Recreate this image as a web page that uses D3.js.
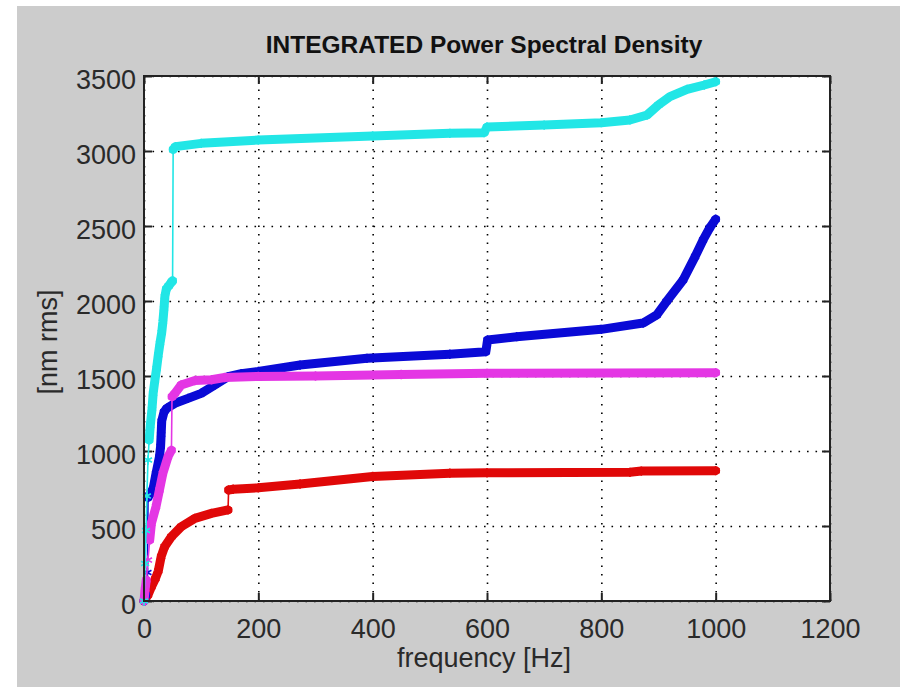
<!DOCTYPE html>
<html>
<head>
<meta charset="utf-8">
<script src="https://cdn.jsdelivr.net/npm/d3@7"></script>
<style>
  body { margin: 0; background: #fff; }
  svg { display: block; font-family: "Liberation Sans", Arial, Helvetica, sans-serif; }
</style>
</head>
<body>
<div id="chart"></div>
<script>
// Integrated PSD curves (frequency in Hz, nm rms)
var cyanFreq = [0, 2, 3.5, 5, 7, 9, 11, 14, 16, 19, 22, 25, 28, 31, 33, 35, 36.5, 39, 43, 48, 50, 51, 55, 100, 200, 400, 535, 595, 600, 700, 800, 850, 880, 900, 920, 950, 980, 1000];
var cyanVal = [0, 250, 470, 700, 940, 1073, 1170, 1280, 1384, 1470, 1550, 1640, 1720, 1790, 1860, 1950, 2030, 2080, 2100, 2125, 2135, 3010, 3029, 3051, 3073, 3100, 3118, 3122, 3160, 3173, 3189, 3207, 3240, 3307, 3362, 3411, 3440, 3462];

var blueFreq = [0, 3, 6, 7, 10, 16, 21, 27, 29, 30, 31, 35, 40, 54, 77, 100, 124, 147, 170, 200, 273, 390, 535, 598, 601, 652, 800, 873, 897, 914, 943, 964, 978, 990, 1000];
var blueVal = [0, 40, 190, 690, 710, 750, 850, 960, 1030, 1110, 1200, 1260, 1285, 1318, 1351, 1384, 1440, 1496, 1515, 1530, 1573, 1618, 1645, 1662, 1740, 1762, 1811, 1853, 1907, 1996, 2140, 2296, 2407, 2490, 2545];

var magentaFreq = [0, 2, 4, 7, 10, 13, 21, 27, 33, 42, 48, 49, 54, 65, 89, 118, 141, 200, 300, 450, 600, 1000];
var magentaVal = [0, 80, 140, 273, 407, 518, 629, 740, 851, 962, 1005, 1362, 1384, 1440, 1470, 1475, 1490, 1497, 1500, 1510, 1518, 1522];

var redFreq = [0, 7, 13, 20, 25, 30, 36, 48, 65, 89, 118, 147, 148, 156, 200, 273, 400, 535, 600, 850, 870, 1000];
var redVal = [0, 40, 95, 150, 200, 296, 362, 429, 495, 551, 584, 607, 740, 745, 755, 780, 830, 852, 855, 858, 866, 869];

var xTicks = [0, 200, 400, 600, 800, 1000, 1200];
var yTicks = [0, 500, 1000, 1500, 2000, 2500, 3000, 3500];

(function psdChart() {

  var W = 900, H = 687;
  var margin = { top: 76, right: 70, bottom: 86, left: 144 },
    width = W - margin.left - margin.right,
    height = H - margin.top - margin.bottom;

  // drawing order: red, blue, magenta, cyan
  var series = [
    { color: "#e00808", freq: redFreq, val: redVal },
    { color: "#0a0ad6", freq: blueFreq, val: blueVal },
    { color: "#e436e4", freq: magentaFreq, val: magentaVal },
    { color: "#22e6e6", freq: cyanFreq, val: cyanVal }
  ];

  var svg = d3.select("#chart").append("svg")
    .attr("width", W)
    .attr("height", H);

  // grey figure background
  svg.append("rect")
    .attr("x", 17).attr("y", 6)
    .attr("width", W - 17).attr("height", H - 6)
    .attr("fill", "#cccccc");

  var g = svg.append("g")
    .attr("transform", "translate(" + margin.left + "," + margin.top + ")");

  var x = d3.scaleLinear().domain([0, 1200]).range([0, width]);
  var y = d3.scaleLinear().domain([0, 3500]).range([height, 0]);
  var fmt = d3.format("d");

  g.append("rect")
    .attr("width", width).attr("height", height)
    .attr("fill", "#fff");

  // dotted grid
  g.append("g").attr("class", "grid")
    .attr("transform", "translate(0," + height + ")")
    .call(d3.axisBottom(x).tickValues(xTicks).tickSize(-height).tickFormat(""));
  g.append("g").attr("class", "grid")
    .call(d3.axisLeft(y).tickValues(yTicks).tickSize(-width).tickFormat(""));
  g.selectAll(".grid .domain").remove();
  g.selectAll(".grid line")
    .attr("stroke", "#000")
    .attr("stroke-width", 1.6)
    .attr("stroke-dasharray", "1.6,6.9");

  // axes: ticks point inward on all four sides
  var xAxis = g.append("g")
    .attr("transform", "translate(0," + height + ")")
    .call(d3.axisBottom(x).tickValues(xTicks).tickFormat(fmt).tickSizeInner(-8).tickSizeOuter(0).tickPadding(18));
  var yAxis = g.append("g")
    .call(d3.axisLeft(y).tickValues(yTicks).tickFormat(fmt).tickSizeInner(-8).tickSizeOuter(0).tickPadding(8));
  var xTop = g.append("g")
    .call(d3.axisTop(x).tickValues(xTicks).tickSizeInner(-8).tickSizeOuter(0).tickFormat(""));
  var yRight = g.append("g")
    .attr("transform", "translate(" + width + ",0)")
    .call(d3.axisRight(y).tickValues(yTicks).tickSizeInner(-8).tickSizeOuter(0).tickFormat(""));

  [xAxis, yAxis, xTop, yRight].forEach(function (a) {
    a.select(".domain").remove();
    a.selectAll("line").attr("stroke", "#222").attr("stroke-width", 2);
    a.selectAll("text")
      .attr("font-size", "27px")
      .attr("font-family", "'Liberation Sans', Arial, Helvetica, sans-serif")
      .attr("fill", "#2a2a2a");
  });
  yAxis.selectAll("text").attr("dy", "0.45em");

  // curves: thin connecting line, a thick band where the asterisk markers
  // pile up, and the markers themselves
  var line = d3.line().x(function (d) { return x(d[0]); }).y(function (d) { return y(d[1]); });
  var star = d3.symbol().type(d3.symbolAsterisk || d3.symbolCross).size(60);

  series.forEach(function (s) {
    var pts = s.freq.map(function (f, i) { return [f, s.val[i]]; });

    // split into runs, breaking on single-step jumps
    var runs = [], cur = [pts[0]];
    for (var i = 1; i < pts.length; i++) {
      var dx = Math.abs(x(pts[i][0]) - x(pts[i - 1][0]));
      var dy = Math.abs(y(pts[i][1]) - y(pts[i - 1][1]));
      if (dx < 2 && dy > 18) {
        if (cur.length > 1) runs.push(cur);
        cur = [pts[i]];
      } else {
        cur.push(pts[i]);
      }
    }
    if (cur.length > 1) runs.push(cur);

    g.append("path")
      .datum(pts)
      .attr("d", line)
      .attr("fill", "none")
      .attr("stroke", s.color)
      .attr("stroke-width", 1.6);

    g.selectAll(null)
      .data(runs)
      .enter().append("path")
      .attr("d", line)
      .attr("fill", "none")
      .attr("stroke", s.color)
      .attr("stroke-width", 9)
      .attr("stroke-linejoin", "round")
      .attr("stroke-linecap", "round");

    g.selectAll(null)
      .data(pts)
      .enter().append("path")
      .attr("d", star)
      .attr("transform", function (d) { return "translate(" + x(d[0]) + "," + y(d[1]) + ")"; })
      .attr("fill", d3.symbolAsterisk ? "none" : s.color)
      .attr("stroke", s.color)
      .attr("stroke-width", 1.6);
  });

  // box round the axes
  g.append("rect")
    .attr("width", width).attr("height", height)
    .attr("fill", "none")
    .attr("stroke", "#222")
    .attr("stroke-width", 2);

  // title and labels
  svg.append("text")
    .attr("x", 484).attr("y", 53)
    .attr("text-anchor", "middle")
    .attr("font-size", "24.5px")
    .attr("font-weight", "bold")
    .attr("fill", "#111")
    .text("INTEGRATED Power Spectral Density");

  svg.append("text")
    .attr("x", 484).attr("y", 667)
    .attr("text-anchor", "middle")
    .attr("font-size", "27px")
    .attr("fill", "#2a2a2a")
    .text("frequency [Hz]");

  svg.append("text")
    .attr("transform", "translate(57,342) rotate(-90)")
    .attr("text-anchor", "middle")
    .attr("font-size", "27px")
    .attr("fill", "#2a2a2a")
    .text("[nm rms]");

})();
</script>
</body>
</html>
